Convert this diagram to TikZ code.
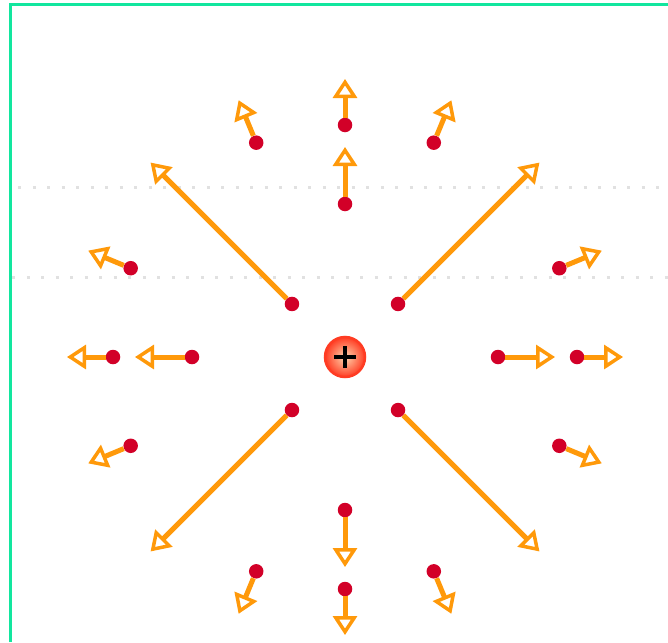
\documentclass[tikz,border=0pt]{standalone}
\usetikzlibrary{arrows.meta}

\definecolor{framegreen}{RGB}{18,230,158}
\definecolor{gridgray}{RGB}{225,225,225}
\definecolor{arroworange}{RGB}{255,153,10}
\definecolor{dotred}{RGB}{210,0,40}
\definecolor{chargered}{RGB}{255,60,35}
\definecolor{chargepeach}{RGB}{255,215,175}

\begin{document}
\begin{tikzpicture}[x=1pt, y=-1pt,
  dot/.style={circle, fill=dotred, inner sep=0pt, minimum size=14.5pt},
  vec/.style={draw=arroworange, line width=5pt,
    -{Triangle[open, length=19pt, width=24pt, line width=3.5pt]}},
  guide/.style={draw=gridgray, line width=3pt, dash pattern=on 3pt off 11.5pt},
  charge/.style={circle, inner sep=0pt, minimum size=40pt, draw=chargered, line width=2.5pt,
    inner color=chargepeach, outer color=chargered,
    path picture={\draw[black, line width=3.3pt]
      ([xshift=-11pt]path picture bounding box.center) -- ([xshift=11pt]path picture bounding box.center)
      ([yshift=-11pt]path picture bounding box.center) -- ([yshift=11pt]path picture bounding box.center);}}]
\useasboundingbox (0,0) rectangle (668,642);

% frame and guide lines
\draw[framegreen, line width=3.5pt] (10.7,642) -- (10.7,4.7) -- (668,4.7);
\draw[guide] (18,187) -- (668,187);
\draw[guide] (12,277) -- (668,277);

\begin{scope}[shift={(345,357)}]
\node[charge] (q) at (0,0) {};

% points close to the charge
\foreach \a [count=\i] in {45,135,225,315} {
  \node[dot] (n\i) at (\a:75) {};
  \coordinate (nt\i) at (\a:275);
  \draw[vec] (n\i) -- (nt\i);
}

% middle ring
\foreach \a [count=\i] in {0,90,180,270} {
  \node[dot] (m\i) at (\a:153) {};
  \coordinate (mt\i) at (\a:210);
  \draw[vec] (m\i) -- (mt\i);
}

% outer ring
\foreach \a [count=\i] in {0,22.5,67.5,90,112.5,157.5,180,202.5,247.5,270,292.5,337.5} {
  \node[dot] (o\i) at (\a:232) {};
  \coordinate (ot\i) at (\a:278);
  \draw[vec] (o\i) -- (ot\i);
}
\end{scope}

\end{tikzpicture}
\end{document}
